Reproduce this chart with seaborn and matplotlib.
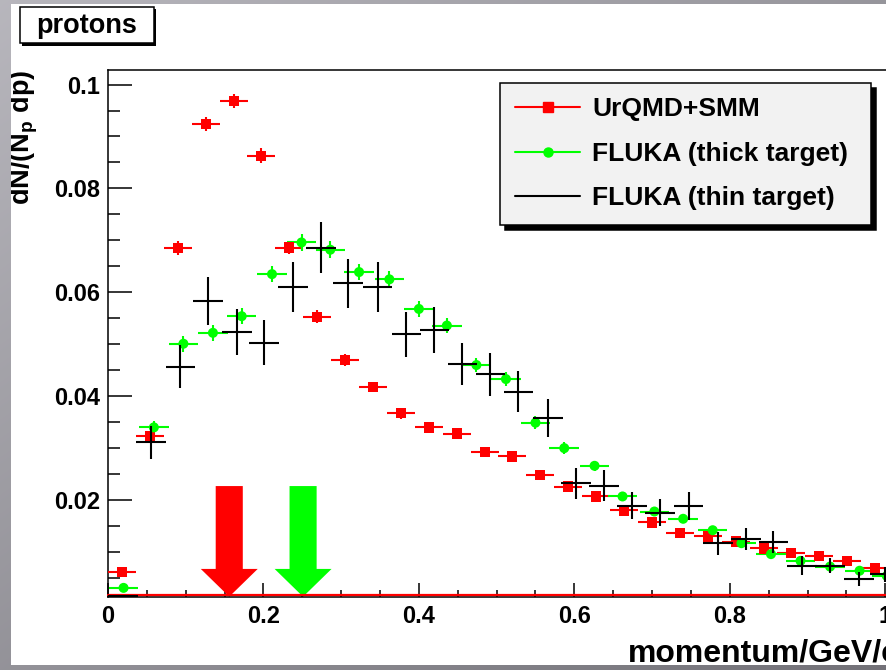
import numpy as np
import pandas as pd
import matplotlib
matplotlib.use('Agg')
import matplotlib.pyplot as plt
import matplotlib.transforms as mtransforms
from matplotlib.lines import Line2D
from matplotlib.patches import Rectangle
from matplotlib.ticker import MultipleLocator
import seaborn as sns

# ---------------- data ----------------
panel_title = 'protons'
x_title = 'momentum/GeV/c'
y_title = 'dN/(N$_p$ dp)'

red_label = 'UrQMD+SMM'
red_x = [0.018, 0.054, 0.090, 0.126, 0.162, 0.197, 0.233, 0.269, 0.305, 0.341,
         0.377, 0.413, 0.449, 0.485, 0.520, 0.556, 0.592, 0.628, 0.664, 0.700,
         0.736, 0.772, 0.808, 0.844, 0.879, 0.915, 0.951, 0.987]
red_y = [0.0062, 0.0323, 0.0685, 0.0924, 0.0968, 0.0863, 0.0686, 0.0553, 0.0470, 0.0418,
         0.0367, 0.0340, 0.0328, 0.0293, 0.0284, 0.0248, 0.0226, 0.0207, 0.0180, 0.0157,
         0.0137, 0.0130, 0.0120, 0.0107, 0.0098, 0.0092, 0.0083, 0.0069]
red_yerr = [0.0004, 0.0010, 0.0013, 0.0014, 0.0014, 0.0014, 0.0013, 0.0012, 0.0011, 0.0010,
            0.0010, 0.0009, 0.0009, 0.0009, 0.0009, 0.0008, 0.0008, 0.0007, 0.0007, 0.0006,
            0.0006, 0.0006, 0.0006, 0.0005, 0.0005, 0.0005, 0.0005, 0.0004]
red_halfwidth = 0.018

green_label = 'FLUKA (thick target)'
green_x = [0.020, 0.059, 0.097, 0.135, 0.172, 0.211, 0.249, 0.286, 0.323, 0.362,
           0.400, 0.436, 0.474, 0.512, 0.550, 0.587, 0.626, 0.662, 0.703, 0.740,
           0.778, 0.815, 0.853, 0.891, 0.929, 0.967, 1.002]
green_y = [0.0031, 0.0340, 0.0501, 0.0522, 0.0554, 0.0635, 0.0696, 0.0682, 0.0639, 0.0625,
           0.0568, 0.0536, 0.0460, 0.0433, 0.0349, 0.0300, 0.0266, 0.0207, 0.0178, 0.0164,
           0.0142, 0.0117, 0.0096, 0.0083, 0.0072, 0.0064, 0.0054]
green_yerr = [0.0005, 0.0012, 0.0015, 0.0015, 0.0015, 0.0016, 0.0017, 0.0016, 0.0016, 0.0016,
              0.0015, 0.0015, 0.0014, 0.0013, 0.0012, 0.0011, 0.0010, 0.0009, 0.0009, 0.0008,
              0.0008, 0.0007, 0.0006, 0.0006, 0.0005, 0.0005, 0.0005]
green_halfwidth = 0.019

black_label = 'FLUKA (thin target)'
black_x = [0.019, 0.055, 0.093, 0.129, 0.166, 0.201, 0.238, 0.274, 0.309, 0.347,
           0.384, 0.420, 0.456, 0.492, 0.528, 0.566, 0.602, 0.638, 0.674, 0.710,
           0.747, 0.785, 0.821, 0.856, 0.893, 0.929, 0.966, 1.000]
black_y = [0.0016, 0.0311, 0.0457, 0.0584, 0.0524, 0.0503, 0.0611, 0.0686, 0.0617, 0.0611,
           0.0519, 0.0528, 0.0462, 0.0442, 0.0409, 0.0358, 0.0232, 0.0228, 0.0189, 0.0176,
           0.0189, 0.0117, 0.0125, 0.0119, 0.0074, 0.0074, 0.0048, 0.0057]
black_yerr = [0.0000, 0.0032, 0.0042, 0.0046, 0.0044, 0.0043, 0.0048, 0.0049, 0.0048, 0.0048,
              0.0043, 0.0044, 0.0041, 0.0041, 0.0039, 0.0036, 0.0030, 0.0029, 0.0026, 0.0026,
              0.0027, 0.0022, 0.0022, 0.0021, 0.0018, 0.0015, 0.0014, 0.0015]
black_halfwidth = 0.019

arrow_x = [0.156, 0.251]
arrow_top = 0.0227
arrow_colors = ['#ff0000', '#00ff00']

x_ticks = [0, 0.2, 0.4, 0.6, 0.8, 1.0]
x_ticklabels = ['0', '0.2', '0.4', '0.6', '0.8', '1']
y_ticks = [0.02, 0.04, 0.06, 0.08, 0.1]
y_ticklabels = ['0.02', '0.04', '0.06', '0.08', '0.1']
x_range = (0.0, 1.019)
y_range = (0.0014, 0.1028)

# ---------------- style ----------------
sns.set_theme(style='white')
plt.rcParams['font.family'] = ['Liberation Sans', 'DejaVu Sans']
plt.rcParams['font.weight'] = 'bold'
plt.rcParams['text.color'] = 'black'
plt.rcParams['axes.labelcolor'] = 'black'
plt.rcParams['xtick.color'] = 'black'
plt.rcParams['ytick.color'] = 'black'
plt.rcParams['mathtext.fontset'] = 'custom'
plt.rcParams['mathtext.rm'] = 'Liberation Sans:bold'
plt.rcParams['mathtext.it'] = 'Liberation Sans:bold'
plt.rcParams['mathtext.bf'] = 'Liberation Sans:bold'

W, H = 886, 670
fig = plt.figure(figsize=(W / 100, H / 100), dpi=100, facecolor='white')
ax = fig.add_axes([108 / W, 1 - 596.7 / H, (900 - 108) / W, (596.7 - 70) / H])
ax.set_facecolor('white')

RED, GREEN, BLACK = '#ff0000', '#00ff00', '#000000'

# arrows
for xa, col in zip(arrow_x, arrow_colors):
    ax.annotate('', xy=(xa, y_range[0]), xytext=(xa, arrow_top),
                arrowprops=dict(arrowstyle='simple,head_length=20,head_width=41,tail_width=19.5',
                                mutation_scale=1, fc=col, ec='none', lw=0,
                                shrinkA=0, shrinkB=0), zorder=2)

# red line along the bottom axis
offset = mtransforms.ScaledTranslation(0, 1.5 / 100, fig.dpi_scale_trans)
ax.plot(x_range, [y_range[0], y_range[0]], color=RED, lw=1.6,
        transform=ax.transData + offset, clip_on=False, zorder=2.6)

# red series
ax.errorbar(red_x, red_y, xerr=red_halfwidth, yerr=red_yerr, fmt='none',
            ecolor=RED, elinewidth=1.5, capsize=0, zorder=3)
sns.scatterplot(data=pd.DataFrame({'p': red_x, 'v': red_y}), x='p', y='v', marker='s',
                s=55, color=RED, edgecolor='none', linewidth=0, ax=ax, zorder=4, legend=False)

# green series
ax.errorbar(green_x, green_y, xerr=green_halfwidth, yerr=green_yerr, fmt='none',
            ecolor=GREEN, elinewidth=1.5, capsize=0, zorder=3)
sns.scatterplot(data=pd.DataFrame({'p': green_x, 'v': green_y}), x='p', y='v', marker='o',
                s=52, color=GREEN, edgecolor='none', linewidth=0, ax=ax, zorder=4, legend=False)

# black series
ax.errorbar(black_x, black_y, xerr=black_halfwidth, yerr=black_yerr, fmt='none',
            ecolor=BLACK, elinewidth=1.5, capsize=0, zorder=5)

# axes
ax.set_xlim(*x_range)
ax.set_ylim(*y_range)
ax.set_xticks(x_ticks)
ax.set_xticklabels(x_ticklabels)
ax.set_yticks(y_ticks)
ax.set_yticklabels(y_ticklabels)
ax.xaxis.set_minor_locator(MultipleLocator(0.05))
ax.yaxis.set_minor_locator(MultipleLocator(0.005))
ax.tick_params(axis='x', which='major', direction='in', length=10, width=1.1,
               bottom=True, top=False, labelsize=17, pad=6)
ax.tick_params(axis='x', which='minor', direction='in', length=5, width=1.1,
               bottom=True, top=False)
ax.tick_params(axis='y', which='major', direction='in', length=17.5, width=1.1,
               left=True, right=False, labelsize=17, pad=5.5)
ax.tick_params(axis='y', which='minor', direction='in', length=8.7, width=1.1,
               left=True, right=False)
for sp in ax.spines.values():
    sp.set_color('black')
    sp.set_linewidth(1.1)
ax.set_ylabel('')

ax.set_xlabel(x_title, fontsize=23, fontweight='bold', loc='right')
ax.xaxis.label.set_va('baseline')
ax.xaxis.set_label_coords(1.0, (596.7 - 662) / 526.7)

fig.text(23.5 / W, 1 - 70 / H, y_title, rotation=90, ha='center', va='top',
         fontsize=19.5, fontweight='bold')

# legend
handles = [Line2D([], [], color=RED, marker='s', ms=7, lw=1.5),
           Line2D([], [], color=GREEN, marker='o', ms=6.5, lw=1.5),
           Line2D([], [], color=BLACK, lw=1.5)]
leg = ax.legend(handles, [red_label, green_label, black_label], loc='upper left',
                bbox_to_anchor=(500 / W, 1 - 222.7 / H, 371 / W, 140 / H),
                bbox_transform=fig.transFigure, mode='expand',
                fontsize=19, frameon=True, fancybox=False, framealpha=1,
                facecolor='#f2f2f2', edgecolor='black', borderpad=0.55,
                handlelength=2.5, handletextpad=0.45, labelspacing=0.78, borderaxespad=0,
                shadow={'ox': 3.6, 'oy': -3.6, 'color': 'black', 'alpha': 1})
leg.get_frame().set_linewidth(1.1)
leg.set_zorder(10)

# panel title box
fig.add_artist(Rectangle((22 / W, 1 - 45.5 / H), 134 / W, 36.6 / H,
                         transform=fig.transFigure, fc='black', ec='none', zorder=1))
fig.add_artist(Rectangle((20 / W, 1 - 43.3 / H), 134 / W, 36.6 / H,
                         transform=fig.transFigure, fc='white', ec='black', lw=1.1, zorder=1.5))
fig.text(36 / W, 1 - 33 / H, panel_title, fontsize=19.5, fontweight='bold',
         ha='left', va='baseline', zorder=2)

# slide border overlay (gray gradient)
ov = fig.add_axes([0, 0, 1, 1], zorder=50)
ov.set_axis_off()
ov.patch.set_alpha(0)
yy, xx = np.mgrid[0:H, 0:W]
base = 0.72 - 0.14 * (yy / H) - 0.13 * (xx / W)
rgba = np.zeros((H, W, 4))
rgba[..., 0] = base
rgba[..., 1] = base - 0.005
rgba[..., 2] = base + 0.02
mask = (xx < 11) | (yy < 4) | (yy >= 665)
rgba[..., 3] = mask.astype(float)
ov.imshow(np.clip(rgba, 0, 1), extent=(0, W, H, 0), interpolation='nearest', aspect='auto')
ov.set_xlim(0, W)
ov.set_ylim(H, 0)

fig.savefig('out.png', dpi=100, facecolor='white')
